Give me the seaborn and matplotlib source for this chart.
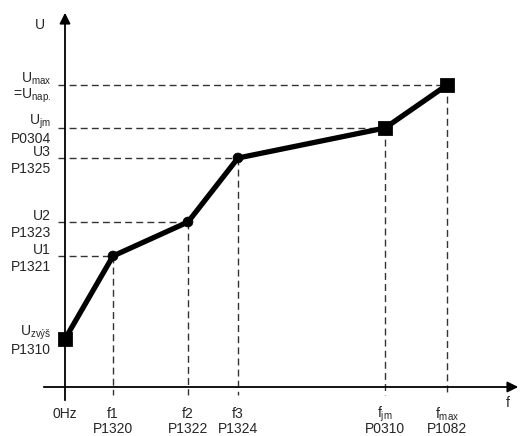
import matplotlib
matplotlib.use("Agg")
import matplotlib.pyplot as plt
import pandas as pd
import seaborn as sns

# characteristic points (f, U)
f_vals = [0, 48, 123, 173, 320, 382]
u_vals = [48, 131, 165, 229, 259, 302]
kinds = ["sq", "ci", "ci", "ci", "sq", "sq"]

u_top = [r"U$_{\mathrm{zvýš}}$", "U1", "U2", "U3", r"U$_{\mathrm{jm}}$", r"U$_{\mathrm{max}}$"]
u_bot = ["P1310", "P1321", "P1323", "P1325", "P0304", r"=U$_{\mathrm{nap.}}$"]
f_top = ["0Hz", "f1", "f2", "f3", r"f$_{\mathrm{jm}}$", r"f$_{\mathrm{max}}$"]
f_bot = ["", "P1320", "P1322", "P1324", "P0310", "P1082"]

df = pd.DataFrame({"f": f_vals, "U": u_vals, "kind": kinds})

sns.set_style("white")
plt.rcParams["font.family"] = ["Liberation Sans", "DejaVu Sans"]
plt.rcParams["mathtext.fontset"] = "custom"
plt.rcParams["mathtext.rm"] = "Liberation Sans"

fig = plt.figure(figsize=(5.22, 4.36), dpi=100)
ax = fig.add_axes([0, 0, 1, 1])
ax.set_xlim(-65, 457)
ax.set_ylim(-49, 387)
ax.axis("off")

# axes with arrows
ax.annotate("", xy=(0, 377), xytext=(0, -16),
            arrowprops=dict(arrowstyle="-|>", color="black", lw=1.3, mutation_scale=16))
ax.annotate("", xy=(456, 0), xytext=(-24, 0),
            arrowprops=dict(arrowstyle="-|>", color="black", lw=1.3, mutation_scale=16))
ax.text(-25, 362, "U", fontsize=10, ha="center", va="center")
ax.text(443, -16, "f", fontsize=10, ha="center", va="center")

# guide lines
for i, (f, u) in enumerate(zip(f_vals, u_vals)):
    ax.plot([-7, f], [u, u], color="#333333", lw=1, ls=(0, (5, 3)), zorder=1)
    if i > 0:
        ax.plot([f, f], [u, -8], color="#333333", lw=1, ls=(0, (5, 3)), zorder=1)

sns.lineplot(data=df, x="f", y="U", ax=ax, color="black", lw=3.8,
             sort=False, legend=False, zorder=3)
sns.scatterplot(data=df, x="f", y="U", style="kind", markers={"sq": "s", "ci": "o"},
                ax=ax, color="black", s=[110 if k == "sq" else 50 for k in kinds],
                legend=False, zorder=4, edgecolor="black")
ax.set_xlabel("")
ax.set_ylabel("")

for u, t, b in zip(u_vals, u_top, u_bot):
    ax.text(-14, u + 6, t, fontsize=10, ha="right", va="center")
    ax.text(-14, u - 11, b, fontsize=10, ha="right", va="center")

for f, t, b in zip(f_vals, f_top, f_bot):
    ax.text(f, -27, t, fontsize=10, ha="center", va="center")
    if b:
        ax.text(f, -42, b, fontsize=10, ha="center", va="center")

fig.savefig("out.png", dpi=100)
